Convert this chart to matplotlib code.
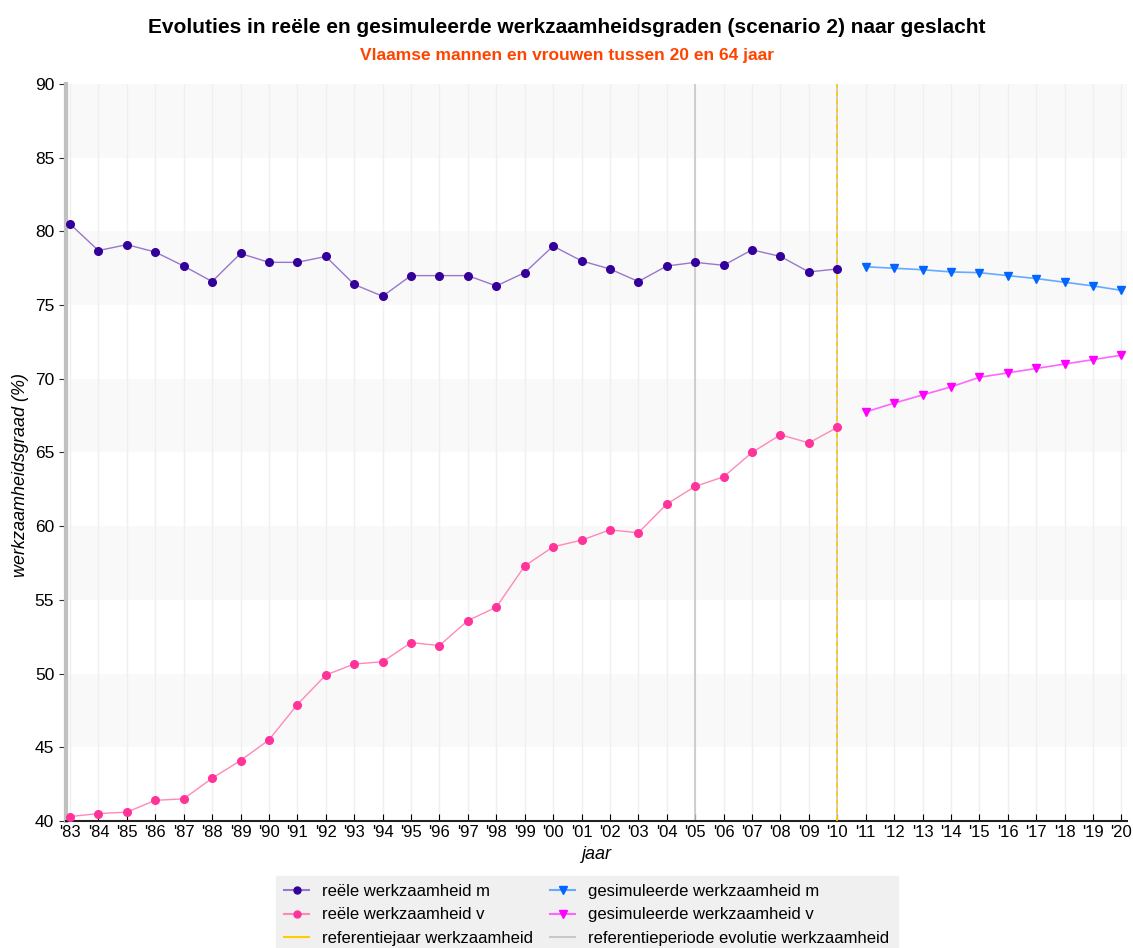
import matplotlib
matplotlib.use("Agg")
import matplotlib.pyplot as plt

plt.rcParams['font.family'] = ['Liberation Sans', 'DejaVu Sans']

# data
jaren_reeel = list(range(1983, 2011))
jaren_sim = list(range(2011, 2021))
reeel_m = [80.5, 78.7, 79.1, 78.6, 77.65, 76.6, 78.5, 77.9, 77.9, 78.3,
           76.4, 75.6, 77.0, 77.0, 77.0, 76.3, 77.2, 79.0, 78.0, 77.45,
           76.6, 77.65, 77.9, 77.7, 78.75, 78.3, 77.25, 77.45]
reeel_v = [40.3, 40.5, 40.6, 41.4, 41.5, 42.9, 44.1, 45.5, 47.9, 49.9,
           50.65, 50.8, 52.1, 51.9, 53.6, 54.5, 57.3, 58.6, 59.05, 59.75,
           59.55, 61.5, 62.7, 63.35, 65.0, 66.2, 65.65, 66.7]
sim_m = [77.6, 77.5, 77.4, 77.25, 77.2, 77.0, 76.8, 76.55, 76.3, 76.0]
sim_v = [67.75, 68.35, 68.9, 69.45, 70.1, 70.4, 70.7, 71.0, 71.3, 71.6]
referentiejaar = 2010
referentieperiode = 2005
tick_jaren = list(range(1983, 2021))
tick_labels = ["'" + str(j)[2:] for j in tick_jaren]

fig = plt.figure(figsize=(11.33, 9.48), dpi=100)
ax = fig.add_axes([0.0583, 0.134, 0.936, 0.7774])

# alternating bands
for lo in range(45, 90, 10):
    ax.axhspan(lo, lo + 5, color="#f9f9f9", zorder=0, lw=0)
for j in tick_jaren:
    ax.axvline(j, color="#efefef", lw=1, zorder=1)

ax.axvline(referentieperiode, color="#c8c8c8", lw=1.2, zorder=2)
ax.axvline(referentiejaar, color="#c8c8c8", lw=1.2, zorder=2)
ax.axvline(referentiejaar, color="#ffcc00", lw=1.2, ls=(0, (3, 2)), zorder=3)

ax.plot(jaren_reeel, reeel_m, color="#9977cc", lw=1, zorder=4)
ax.plot(jaren_reeel, reeel_m, ls="none", marker="o", ms=5.5, color="#330099", zorder=5)
ax.plot(jaren_reeel, reeel_v, color="#ff88bb", lw=1, zorder=4)
ax.plot(jaren_reeel, reeel_v, ls="none", marker="o", ms=5.5, color="#ff3399", zorder=5)
ax.plot(jaren_sim, sim_m, color="#66aaff", lw=1.2, zorder=4)
ax.plot(jaren_sim, sim_m, ls="none", marker="v", ms=6, color="#0066ff", zorder=5)
ax.plot(jaren_sim, sim_v, color="#ff66ff", lw=1.2, zorder=4)
ax.plot(jaren_sim, sim_v, ls="none", marker="v", ms=6, color="#ff00ff", zorder=5)

ax.set_xlim(1982.86, 2020.18)
ax.set_ylim(40, 90)
ax.set_xticks(tick_jaren)
ax.set_xticklabels(tick_labels, fontsize=12)
ax.set_yticks(range(40, 91, 5))
ax.tick_params(axis="y", labelsize=12.5, length=5, direction="out", color="#333333")
ax.tick_params(axis="x", length=5, direction="in", pad=3)

for s in ["top", "right"]:
    ax.spines[s].set_visible(False)
ax.spines["left"].set_color("#c0c0c0")
ax.spines["left"].set_linewidth(3)
ax.spines["bottom"].set_color("#222222")
ax.spines["bottom"].set_linewidth(1.5)

ax.set_xlabel("jaar", fontsize=13, style="italic", labelpad=4)
ax.set_ylabel("werkzaamheidsgraad (%)", fontsize=13, style="italic")
ax.yaxis.set_label_coords(-0.035, 0.47)

fig.text(0.5, 0.971, "Evoluties in reële en gesimuleerde werkzaamheidsgraden (scenario 2) naar geslacht",
         ha="center", va="center", fontsize=15, fontweight="bold")
fig.text(0.5, 0.941, "Vlaamse mannen en vrouwen tussen 20 en 64 jaar",
         ha="center", va="center", fontsize=12.5, fontweight="bold", color="#ff4400")

# legend
h1, = ax.plot([], [], color="#9977cc", marker="o", mfc="#330099", mec="#330099", ms=5)
h2, = ax.plot([], [], color="#ff88bb", marker="o", mfc="#ff3399", mec="#ff3399", ms=5)
h3, = ax.plot([], [], color="#ffcc00", lw=1.5)
h4, = ax.plot([], [], color="#66aaff", marker="v", mfc="#0066ff", mec="#0066ff", ms=6)
h5, = ax.plot([], [], color="#ff66ff", marker="v", mfc="#ff00ff", mec="#ff00ff", ms=6)
h6, = ax.plot([], [], color="#c8c8c8", lw=1.5)
leg = fig.legend([h1, h2, h3, h4, h5, h6],
                 ["reële werkzaamheid m", "reële werkzaamheid v", "referentiejaar werkzaamheid",
                  "gesimuleerde werkzaamheid m", "gesimuleerde werkzaamheid v",
                  "referentieperiode evolutie werkzaamheid"],
                 ncol=2, loc="upper center", bbox_to_anchor=(0.518, 0.085),
                 fontsize=12, frameon=True, fancybox=False, handlelength=1.5,
                 columnspacing=1.0, labelspacing=0.5, borderpad=0.5)
leg.get_frame().set_facecolor("#f0f0f0")
leg.get_frame().set_edgecolor("#f0f0f0")
leg.get_frame().set_alpha(1)

fig.savefig("out.png", dpi=100)
